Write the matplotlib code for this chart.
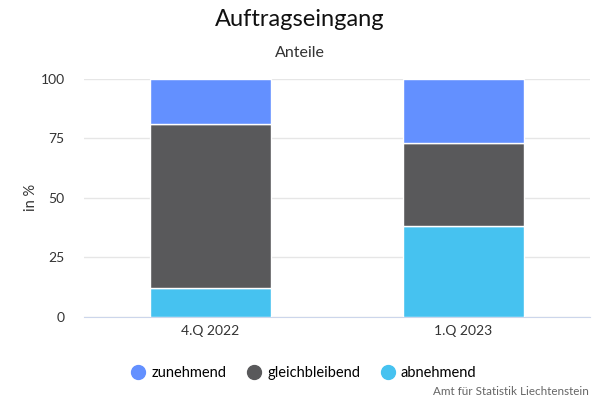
import matplotlib.pyplot as plt
from matplotlib.lines import Line2D

plt.rcParams['font.family'] = ['Lato', 'DejaVu Sans']

quartale = ['4.Q 2022', '1.Q 2023']
abnehmend = [12, 38]
gleichbleibend = [69, 35]
zunehmend = [19, 27]

farben = {'zunehmend': '#6390ff', 'gleichbleibend': '#59595b', 'abnehmend': '#46c2f0'}

fig = plt.figure(figsize=(6, 4), dpi=100)
ax = fig.add_axes([0.14, 0.2075, 0.843, 0.596])

x = range(len(quartale))
b = 0.478
ax.bar(x, abnehmend, width=b, color=farben['abnehmend'], edgecolor='white', linewidth=1, zorder=3)
unten = abnehmend
ax.bar(x, gleichbleibend, width=b, bottom=unten, color=farben['gleichbleibend'], edgecolor='white', linewidth=1, zorder=3)
unten = [a + g for a, g in zip(abnehmend, gleichbleibend)]
ax.bar(x, zunehmend, width=b, bottom=unten, color=farben['zunehmend'], edgecolor='white', linewidth=1, zorder=3)

ax.set_xlim(-0.5, 1.5)
ax.set_ylim(0, 100)
ax.set_yticks([0, 25, 50, 75, 100])
ax.set_xticks(list(x))
ax.set_xticklabels(quartale)
ax.grid(axis='y', color='#e6e6e6', linewidth=1, zorder=0)
for s in ['top', 'right', 'left']:
    ax.spines[s].set_visible(False)
ax.spines['bottom'].set_color('#ccd6eb')
ax.tick_params(axis='both', length=0, labelsize=10, colors='#333333', pad=6)
ax.tick_params(axis='y', pad=14)
ax.set_ylabel('in %', fontsize=10.5, color='#333333', labelpad=2)

fig.text(0.5, 0.95, 'Auftragseingang', ha='center', va='center', fontsize=17, color='#111111')
fig.text(0.5, 0.868, 'Anteile', ha='center', va='center', fontsize=11.5, color='#333333')

handles = [Line2D([], [], marker='o', linestyle='', markersize=10, color=farben[k]) for k in ['zunehmend', 'gleichbleibend', 'abnehmend']]
fig.legend(handles, ['zunehmend', 'gleichbleibend', 'abnehmend'], loc='center', bbox_to_anchor=(0.5, 0.068),
           ncol=3, frameon=False, fontsize=10.5, handletextpad=-0.1, columnspacing=0.9)

fig.text(0.982, 0.022, 'Amt für Statistik Liechtenstein', ha='right', va='center', fontsize=8.4, color='#666666')

fig.savefig('out.png', dpi=100)
